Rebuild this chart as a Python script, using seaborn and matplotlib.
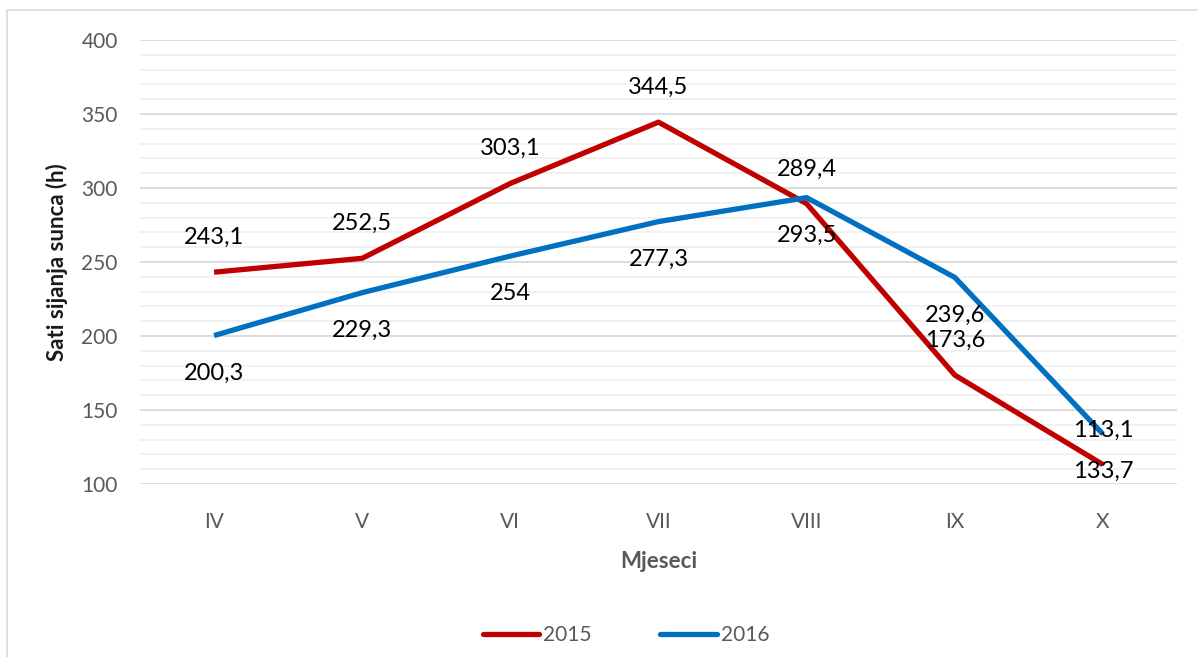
import matplotlib
matplotlib.use("Agg")
import matplotlib.pyplot as plt
import seaborn as sns
import pandas as pd
from matplotlib.patches import Rectangle
from matplotlib.lines import Line2D

months = ["IV", "V", "VI", "VII", "VIII", "IX", "X"]
series_names = ["2015", "2016"]
values_2015 = [243.1, 252.5, 303.1, 344.5, 289.4, 173.6, 113.1]
values_2016 = [200.3, 229.3, 254.0, 277.3, 293.5, 239.6, 133.7]
colors = ["#C00000", "#0070C0"]

sns.set_style("white")
plt.rcParams["font.family"] = ["Lato", "DejaVu Sans"]

df = pd.DataFrame({
    "x": list(range(len(months))) * 2,
    "val": values_2015 + values_2016,
    "year": [series_names[0]] * len(months) + [series_names[1]] * len(months),
})

fig = plt.figure(figsize=(11.98, 6.57), dpi=100)
ax = fig.add_axes([140 / 1198, 1 - 484 / 657, 1037 / 1198, 444 / 657])

sns.lineplot(data=df, x="x", y="val", hue="year", palette=colors, linewidth=3.8,
             ax=ax, legend=False, sort=False, solid_capstyle="butt")

ax.set_xlim(-0.5, len(months) - 0.5)
ax.set_ylim(100, 400)
ax.set_yticks(range(100, 401, 50))
ax.set_yticks(range(100, 401, 10), minor=True)
ax.set_xticks(range(len(months)))
ax.set_xticklabels(months)
ax.grid(True, which="major", axis="y", color="#d9d9d9", linewidth=1.3, zorder=0)
ax.grid(True, which="minor", axis="y", color="#f0f0f0", linewidth=1.3, zorder=0)
ax.set_axisbelow(True)
for s in ax.spines.values():
    s.set_visible(False)
ax.tick_params(axis="both", which="both", length=0, labelsize=15, colors="#595959")
ax.tick_params(axis="x", pad=20)
ax.tick_params(axis="y", pad=16)

ax.set_xlabel("Mjeseci", fontsize=16, fontweight="bold", color="#595959", labelpad=14)
ax.set_ylabel("Sati sijanja sunca (h)", fontsize=16, fontweight="bold", color="#1a1a1a", labelpad=10)

def fmt(v):
    s = ("%.1f" % v).replace(".", ",")
    if s.endswith(",0"):
        s = s[:-2]
    return s

for i, v in enumerate(values_2015):
    ax.annotate(fmt(v), (i, v), xytext=(0, 25), textcoords="offset points",
                ha="center", va="center", fontsize=17, color="black")
for i, v in enumerate(values_2016):
    ax.annotate(fmt(v), (i, v), xytext=(0, -27), textcoords="offset points",
                ha="center", va="center", fontsize=17, color="black")

handles = [Line2D([0], [0], color=c, linewidth=3.8, solid_capstyle="round") for c in colors]
leg = fig.legend(handles, series_names, loc="center", bbox_to_anchor=(626 / 1198, 1 - 635 / 657),
                 ncol=2, frameon=False, fontsize=15, handlelength=2.7, handletextpad=0.2,
                 columnspacing=3.3)
for t in leg.get_texts():
    t.set_color("#595959")

fig.patches.append(Rectangle((7 / 1198, -0.01), 1.02, 1 - 10 / 657 + 0.01,
                             transform=fig.transFigure, fill=False,
                             edgecolor="#d9d9d9", linewidth=1.2, zorder=0))

fig.savefig("out.png", dpi=100)
